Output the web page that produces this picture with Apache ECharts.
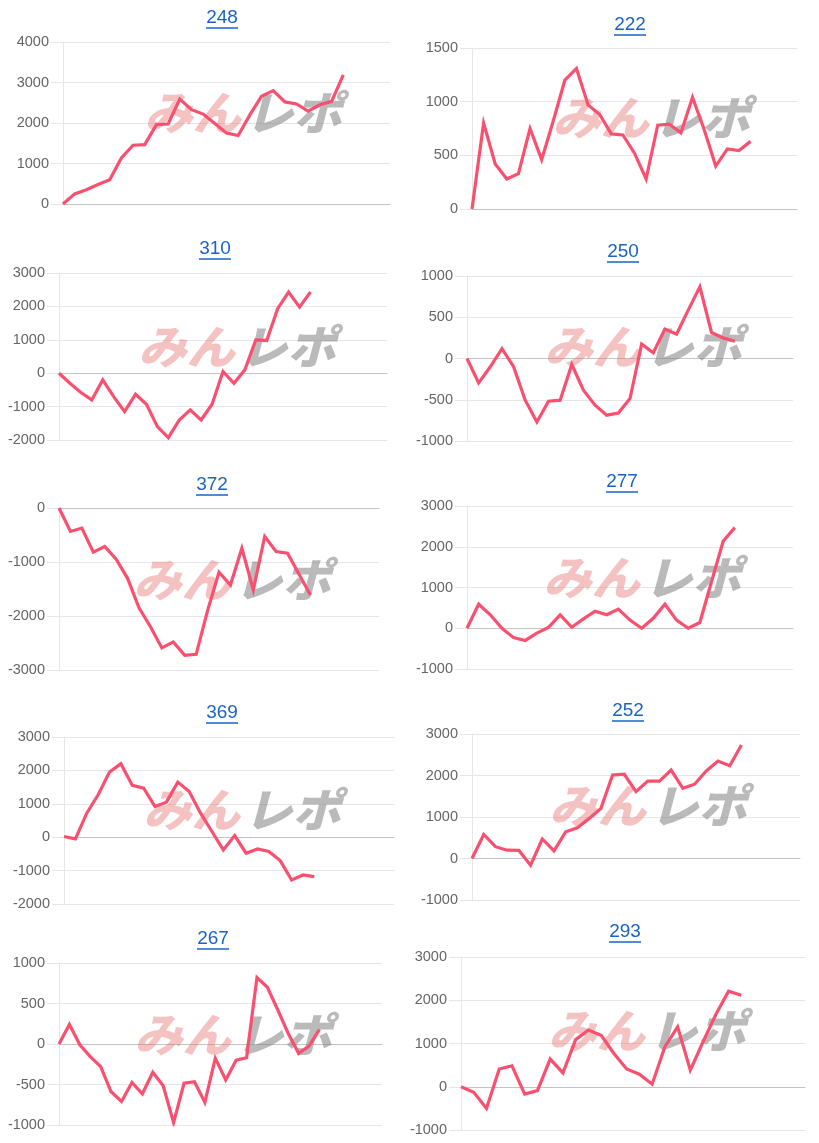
<!DOCTYPE html>
<html><head><meta charset="utf-8">
<script src="https://cdn.jsdelivr.net/npm/echarts@6/dist/echarts.min.js"></script>
<style>html,body{margin:0;padding:0;background:#fff}#c{width:819px;height:1143px}</style>
</head><body><div id="c"></div>
<script>
// ---- data ----
const titles = ['248', '222', '310', '250', '372', '277', '369', '252', '267', '293'];

const s248 = [0, 250, 350, 480, 600, 1135, 1450, 1465, 1960, 1975, 2590, 2330, 2220, 1985, 1750, 1690, 2200, 2660, 2800, 2520, 2470, 2290, 2450, 2535, 3190];
const s222 = [0, 800, 420, 280, 330, 750, 460, 820, 1200, 1310, 970, 880, 700, 690, 520, 280, 780, 790, 710, 1040, 740, 400, 560, 545, 630];
const s310 = [0, -300, -580, -800, -200, -700, -1150, -630, -930, -1600, -1930, -1400, -1100, -1400, -930, 50, -300, 100, 1000, 980, 1930, 2430, 1980, 2430];
const s250 = [0, -295, -100, 120, -100, -505, -770, -517, -505, -73, -384, -566, -687, -660, -485, 174, 69, 356, 295, 586, 869, 315, 250, 210];
const s372 = [0, -434, -372, -818, -713, -950, -1302, -1847, -2200, -2591, -2480, -2728, -2709, -1900, -1190, -1426, -744, -1519, -527, -806, -837, -1227, -1612];
const s277 = [0, 590, 330, 0, -230, -300, -120, 20, 330, 25, 230, 420, 330, 470, 200, 0, 245, 590, 200, 0, 140, 1140, 2135, 2470];
const s369 = [20, -50, 720, 1270, 1950, 2200, 1550, 1470, 920, 1050, 1650, 1370, 720, 170, -380, 50, -480, -350, -430, -700, -1280, -1130, -1180];
const s252 = [0, 580, 285, 200, 195, -160, 470, 185, 645, 740, 965, 1205, 2010, 2030, 1610, 1865, 1865, 2130, 1690, 1790, 2110, 2350, 2235, 2735];
const s267 = [0, 240, -10, -155, -280, -590, -710, -475, -615, -350, -515, -970, -485, -465, -720, -175, -445, -200, -170, 820, 700, 420, 130, -115, -25, 180];
const s293 = [0, -130, -500, 410, 485, -170, -90, 640, 320, 1090, 1310, 1190, 770, 410, 290, 60, 920, 1385, 385, 1040, 1670, 2210, 2115];

const seriesData = [s248, s222, s310, s250, s372, s277, s369, s252, s267, s293];
const categoryCounts = [29, 29, 31, 29, 29, 29, 30, 29, 32, 28];
const yMin = [0, 0, -2000, -1000, -3000, -1000, -2000, -1000, -1000, -1000];
const yMax = [4000, 1500, 3000, 1000, 0, 3000, 3000, 3000, 1000, 3000];
const yInterval = [1000, 500, 1000, 500, 1000, 1000, 1000, 1000, 500, 1000];

// ---- layout (pixels) ----
const gridRects = [
  [63, 42, 327, 162], [472, 48, 325, 161],
  [59, 273, 328, 167], [467, 276, 326, 165],
  [59, 508, 320, 162], [467, 506, 326, 163],
  [64, 737, 330, 167], [472, 734, 328, 166],
  [59, 963, 323, 162], [461, 957, 344, 173]
];
const titlePos = [[222, 18], [630, 25], [215, 249], [623, 252], [212, 485], [622, 482], [222, 713], [628, 711], [213, 939], [625, 932]];
const markPos = [[243, 113], [651, 118], [237, 347], [643, 347], [232, 580], [642, 578], [242, 810], [648, 806], [233, 1035], [647, 1031]];

const LINE = '#fa5070';
const TITLE = '#1a63c6';
const GRIDC = '#e6e6e6';

const grid = [], xAxis = [], yAxis = [], series = [], graphic = [];
seriesData.forEach((d, i) => {
  const r = gridRects[i];
  grid.push({ left: r[0], top: r[1], width: r[2], height: r[3], containLabel: false });
  const cats = Array.from({ length: categoryCounts[i] }, (_, k) => String(k + 1));
  xAxis.push({
    type: 'category', gridIndex: i, data: cats, boundaryGap: false,
    axisLabel: { show: false }, axisTick: { show: false },
    axisLine: { show: true, onZero: true, lineStyle: { color: '#c4c4c4', width: 1 } },
    splitLine: { show: false }
  });
  yAxis.push({
    type: 'value', gridIndex: i, min: yMin[i], max: yMax[i], interval: yInterval[i],
    axisLabel: { color: '#666', fontSize: 14.5, fontFamily: '"Liberation Sans", Arial, sans-serif', margin: 14,
      formatter: v => String(v) },
    axisTick: { show: true, length: 12, lineStyle: { color: GRIDC } },
    axisLine: { show: true, lineStyle: { color: GRIDC } },
    splitLine: { show: true, lineStyle: { color: GRIDC, width: 1 } }
  });
  series.push({
    type: 'line', xAxisIndex: i, yAxisIndex: i, data: d,
    symbol: 'none', showSymbol: false, z: 5,
    lineStyle: { color: LINE, width: 3.2, join: 'miter' }, itemStyle: { color: LINE }
  });
  const t = titlePos[i];
  graphic.push({
    type: 'text', z: 10,
    style: { text: titles[i], x: t[0], y: t[1], textAlign: 'center', textVerticalAlign: 'middle', align: 'center', verticalAlign: 'middle',
      font: '19px "Liberation Sans", Arial, sans-serif', fill: TITLE }
  });
  graphic.push({
    type: 'line', z: 10,
    shape: { x1: t[0] - 16, y1: t[1] + 10, x2: t[0] + 16, y2: t[1] + 10 },
    style: { stroke: TITLE, lineWidth: 1.5 }
  });
  const m = markPos[i];
  graphic.push({
    type: 'group', x: m[0], y: m[1], scaleX: 1.05, z: 1,
    children: [
      { type: 'text', z: 1, style: { text: 'みん', x: -2, y: 0, textAlign: 'right', textVerticalAlign: 'middle', align: 'right', verticalAlign: 'middle',
        font: 'italic 900 46px "Noto Sans CJK JP"', fill: 'rgba(232,120,120,0.45)' } },
      { type: 'text', z: 1, style: { text: 'レポ', x: 2, y: 0, textAlign: 'left', textVerticalAlign: 'middle', align: 'left', verticalAlign: 'middle',
        font: 'italic 900 46px "Noto Sans CJK JP"', fill: 'rgba(130,130,130,0.55)' } }
    ]
  });
});

const chart = echarts.init(document.getElementById('c'), null, { renderer: 'canvas' });
chart.setOption({ animation: false, backgroundColor: '#fff', grid, xAxis, yAxis, series, graphic });
</script></body></html>
